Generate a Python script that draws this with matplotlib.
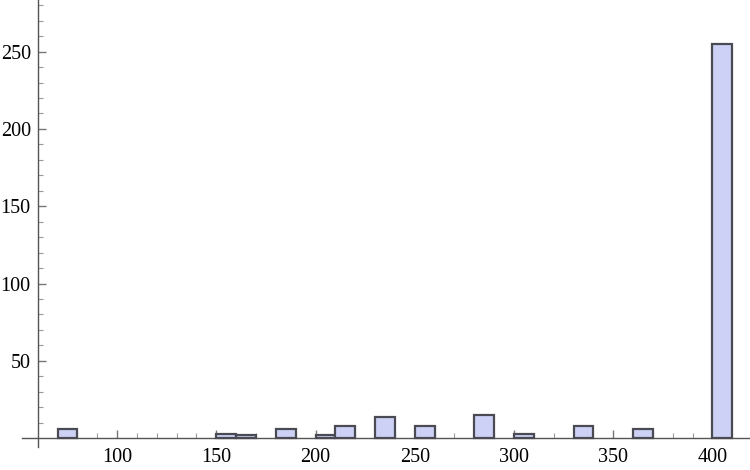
import matplotlib
matplotlib.use("Agg")
import matplotlib.pyplot as plt
from matplotlib.ticker import FixedLocator

# histogram bins (left edges, width 10) and counts
bin_left = [70, 150, 160, 180, 200, 210, 230, 250, 280, 300, 330, 360, 400]
counts = [6, 3, 2, 6, 2, 8, 14, 8, 15, 3, 8, 6, 255]
bin_width = 10

x_major = [100, 150, 200, 250, 300, 350, 400]
y_major = [50, 100, 150, 200, 250]

plt.rcParams['font.family'] = ['Liberation Serif', 'DejaVu Serif']

fig = plt.figure(figsize=(7.5, 4.7), dpi=100)
ax = fig.add_axes([0, 0, 1, 1])

ax.bar(bin_left, counts, width=bin_width, align='edge',
       color='#cdd1f5', edgecolor='#4a4a52', linewidth=1.6, zorder=3)

ax.set_xlim(41.0, 418.9)
ax.set_ylim(-20.6, 283.4)

# Mathematica style axes crossing at (60, 0)
for s in ['top', 'right']:
    ax.spines[s].set_visible(False)
ax.spines['left'].set_position(('data', 60))
ax.spines['bottom'].set_position(('data', 0))
ax.spines['left'].set_bounds(-6, 283.4)
ax.spines['bottom'].set_bounds(52, 418.9)
for s in ['left', 'bottom']:
    ax.spines[s].set_color('#555555')
    ax.spines[s].set_linewidth(1.0)

ax.set_xticks(x_major)
ax.set_yticks(y_major)
ax.xaxis.set_minor_locator(FixedLocator(
    [v for v in range(70, 420, 10) if v not in x_major]))
ax.yaxis.set_minor_locator(FixedLocator(
    [v for v in range(10, 290, 10) if v not in y_major]))

ax.tick_params(which='major', direction='in', length=6, width=1.0,
               color='#777777', labelsize=14.5, labelcolor='black')
ax.tick_params(which='minor', direction='in', length=3.5, width=0.8,
               color='#999999')
ax.tick_params(axis='x', which='major', pad=7)
ax.tick_params(axis='y', which='major', pad=5)

fig.savefig('out.png', dpi=100)
